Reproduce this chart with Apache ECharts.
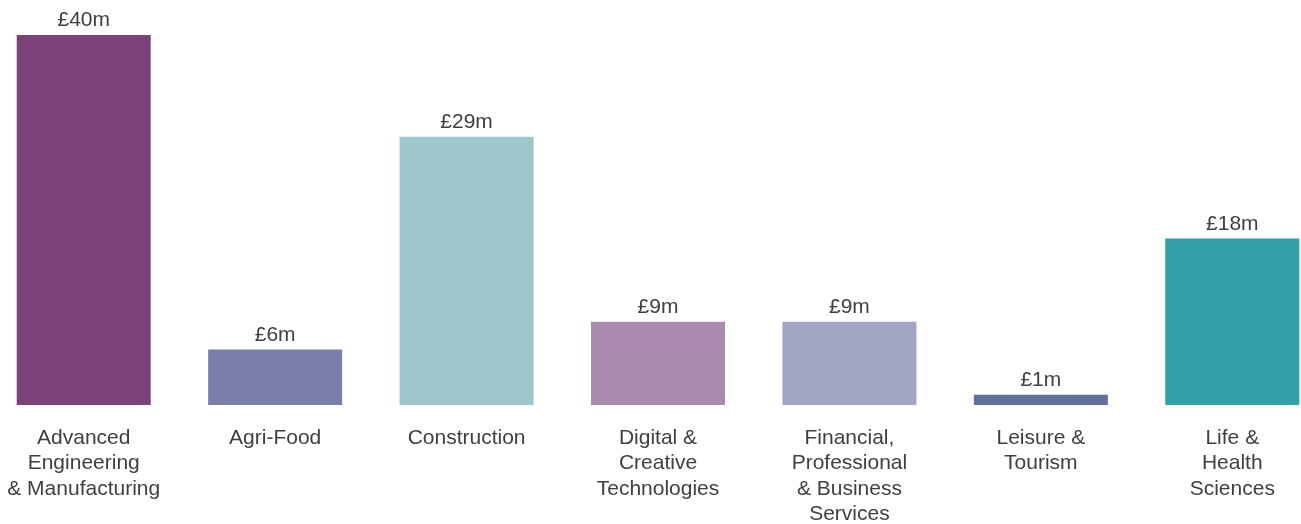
<!DOCTYPE html>
<html><head><meta charset="utf-8">
<script src="https://cdn.jsdelivr.net/npm/echarts@6/dist/echarts.min.js"></script>
<style>html,body{margin:0;padding:0;background:#fff}#c{width:1301px;height:524px}</style>
</head><body><div id="c"></div>
<script>
const categories = ["Advanced\nEngineering\n& Manufacturing","Agri-Food","Construction","Digital &\nCreative\nTechnologies","Financial,\nProfessional\n& Business\nServices","Leisure &\nTourism","Life &\nHealth\nSciences"];
const values = [40, 6, 29, 9, 9, 1.1, 18];
const valueLabels = ["£40m","£6m","£29m","£9m","£9m","£1m","£18m"];
const colors = ["#7A4278","#7B80AB","#9DC7CB","#A98BB0","#A2A6C4","#636F9B","#339FA6"];
const chart = echarts.init(document.getElementById('c'));
chart.setOption({
  animation:false,
  grid:{left:-12,right:-27,top:35,bottom:119,containLabel:false,outerBoundsMode:'none'},
  xAxis:{type:'category',data:categories,axisLine:{show:false},axisTick:{show:false},
    axisLabel:{interval:0,color:'#404040',fontFamily:'Liberation Sans, Arial, sans-serif',fontSize:21,lineHeight:25.5,margin:20,verticalAlign:'top'}},
  yAxis:{type:'value',min:0,max:40,show:false,splitLine:{show:false}},
  series:[{type:'bar',barCategoryGap:'30%',
    data:values.map((v,i)=>({value:v,itemStyle:{color:colors[i]}})),
    label:{show:true,position:'top',distance:4,color:'#404040',fontFamily:'Liberation Sans, Arial, sans-serif',fontSize:21,
      formatter:p=>valueLabels[p.dataIndex]}}]
});
</script></body></html>
